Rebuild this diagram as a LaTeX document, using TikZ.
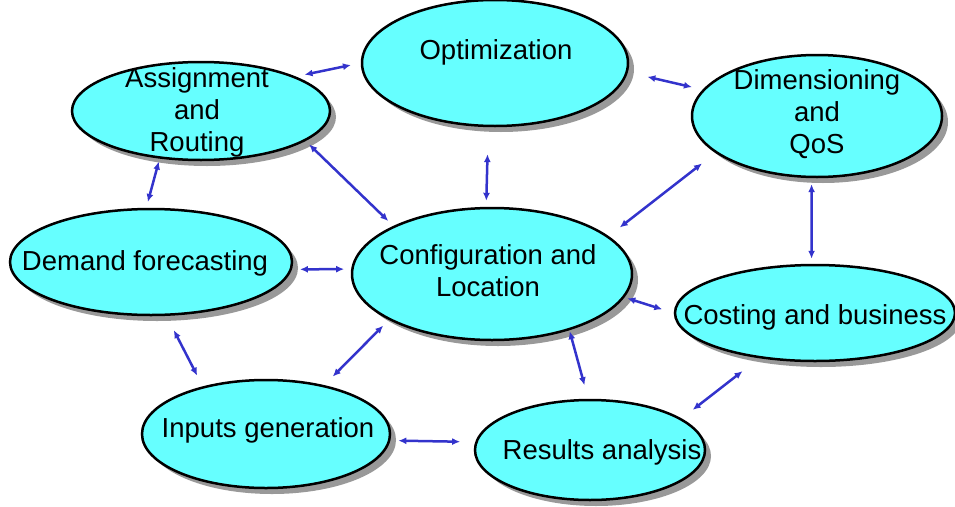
\documentclass[tikz,border=0pt]{standalone}
\usepackage{fontspec}
\setmainfont{Liberation Sans}
\usetikzlibrary{shapes.geometric,shadows,arrows.meta}
\definecolor{bubfill}{RGB}{102,255,255}
\definecolor{shadowgray}{RGB}{153,153,153}
\definecolor{linkblue}{RGB}{51,51,204}
\begin{document}
\begin{tikzpicture}[x=1pt,y=-1pt,
  bub/.style={ellipse, draw=black, line width=2.5pt, fill=bubfill, inner sep=0pt,
    drop shadow={shadow xshift=6pt, shadow yshift=-6pt, fill=shadowgray, opacity=1}},
  lbl/.style={font=\fontsize{27.5}{32}\selectfont, align=center, inner sep=0pt},
  link/.style={draw=linkblue, line width=2.5pt,
    {Latex[length=8pt,width=7pt]}-{Latex[length=8pt,width=7pt]}}]
\path[use as bounding box] (0,0) rectangle (955,506);

\node[bub, minimum width=266pt, minimum height=126pt] (opt) at (495,63) {};
\node[bub, minimum width=258pt, minimum height=98pt] (asg) at (201,111) {};
\node[bub, minimum width=250pt, minimum height=122pt] (dim) at (817,116) {};
\node[bub, minimum width=282pt, minimum height=106pt] (dem) at (151,262) {};
\node[bub, minimum width=280pt, minimum height=132pt] (cfg) at (492,274) {};
\node[bub, minimum width=280pt, minimum height=96pt] (cst) at (815,313) {};
\node[bub, minimum width=248pt, minimum height=108pt] (inp) at (266,434) {};
\node[bub, minimum width=230pt, minimum height=100pt] (res) at (590,450) {};

\node[lbl] (tOpt) at (496,52) {Optimization};
\node[lbl] (tAsg) at (197,112) {Assignment\\and\\Routing};
\node[lbl] (tDim) at (817,114) {Dimensioning\\and\\QoS};
\node[lbl] (tDem) at (145,263) {Demand forecasting};
\node[lbl] (tCfg) at (488,271) {Configuration and\\Location};
\node[lbl] (tCst) at (815,317) {Costing and business};
\node[lbl] (tInp) at (268,430) {Inputs generation};
\node[lbl] (tRes) at (602,452) {Results analysis};

\draw[link, shorten <=9pt, shorten >=10pt] (asg.20) -- (opt.180);
\draw[link, shorten <=20pt, shorten >=11pt] (opt.-4) -- (dim.167);
\draw[link, shorten <=3pt, shorten >=6pt] (asg.229) -- (dem.95);
\draw[link, shorten <=5pt, shorten >=7pt] (asg.-16) -- (cfg.154);
\draw[link, shorten <=27pt, shorten >=6pt] (opt.-96) -- (cfg.95);
\draw[link, shorten <=17pt, shorten >=14pt] (dim.200) -- (cfg.18);
\draw[link, shorten <=6pt, shorten >=5pt] (dim.-95) -- (cst.94);
\draw[link, shorten <=8pt, shorten >=7pt] (dem.-3) -- (cfg.178);
\draw[link, shorten <=3pt, shorten >=12pt] (cfg.-10) -- (cst.180);
\draw[link, shorten <=16pt, shorten >=12pt] (dem.-74) -- (inp.143);
\draw[link, shorten <=12pt, shorten >=8pt] (inp.40) -- (cfg.204);
\draw[link, shorten <=1pt, shorten >=14pt] (cfg.-36) -- (res.92);
\draw[link, shorten <=8pt, shorten >=15pt] (inp.-3) -- (res.176);
\draw[link, shorten <=14pt, shorten >=21pt] (res.19) -- (cst.219);
\end{tikzpicture}
\end{document}
